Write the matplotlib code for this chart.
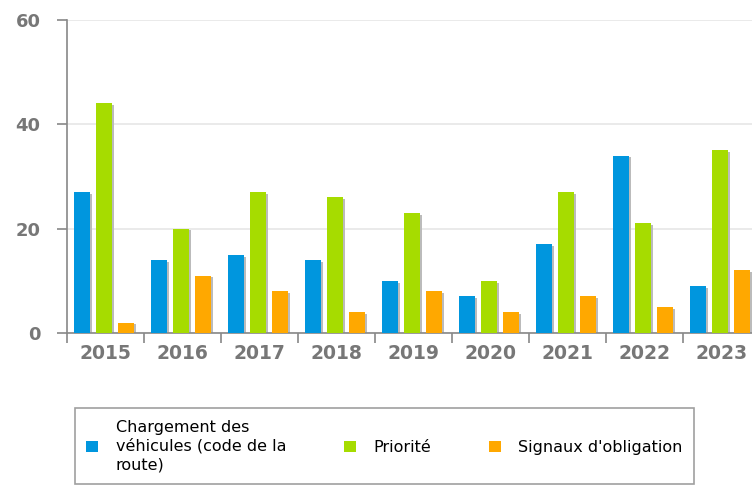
import matplotlib
matplotlib.use("Agg")
import matplotlib.pyplot as plt
import numpy as np

# Données
annees = ["2015", "2016", "2017", "2018", "2019", "2020", "2021", "2022", "2023"]
chargement = [27, 14, 15, 14, 10, 7, 17, 34, 9]
priorite = [44, 20, 27, 26, 23, 10, 27, 21, 35]
signaux = [2, 11, 8, 4, 8, 4, 7, 5, 12]

noms = ["Chargement des\nvéhicules (code de la\nroute)", "Priorité", "Signaux d'obligation"]
couleurs = ["#0096de", "#a6dc00", "#ffa800"]

fig = plt.figure(figsize=(7.52, 5.03), dpi=100)
ax = fig.add_axes([67 / 752, 1 - 333 / 503, 693 / 752, 313 / 503])

x = np.arange(len(annees))
largeur = 0.21
pas = 0.285
series = [chargement, priorite, signaux]
for i, (vals, coul, nom) in enumerate(zip(series, couleurs, noms)):
    pos = x + (i - 1) * pas - 0.02
    # petite ombre grise
    ax.bar(pos + 0.025, vals, largeur, bottom=-0.35, color="#bbbbbb", zorder=2)
    ax.bar(pos, vals, largeur, color=coul, zorder=3, label=nom)

ax.set_xlim(-0.5, len(annees) - 0.5)
ax.set_ylim(0, 60)
ax.set_yticks([0, 20, 40, 60])
ax.set_xticks(x)
ax.set_xticklabels(annees)
ax.set_xticks(np.arange(len(annees) + 1) - 0.5, minor=True)

ax.grid(axis="y", color="#e6e6e6", linewidth=1.2, zorder=0)
for s in ["top", "right"]:
    ax.spines[s].set_visible(False)
ax.spines["left"].set_color("#888888")
ax.spines["bottom"].set_color("#888888")
ax.spines["left"].set_linewidth(1.2)
ax.spines["bottom"].set_linewidth(1.2)

ax.tick_params(axis="x", which="major", length=0, pad=8)
ax.tick_params(axis="x", which="minor", length=7, color="#888888", width=1.2)
ax.tick_params(axis="y", length=7, color="#888888", width=1.2, pad=12)
for lab in ax.get_xticklabels():
    lab.set_fontsize(13.5)
    lab.set_fontweight("bold")
    lab.set_color("#777777")
for lab in ax.get_yticklabels():
    lab.set_fontsize(13)
    lab.set_fontweight("bold")
    lab.set_color("#777777")

leg = fig.legend(loc="center left", bbox_to_anchor=(75 / 752, 1 - 446 / 503),
                 ncol=3, fontsize=11.5, frameon=True, fancybox=False,
                 edgecolor="#888888", handlelength=0.75, handleheight=0.75,
                 handletextpad=1.1, columnspacing=3.6, borderpad=0.7,
                 borderaxespad=0)
leg.get_frame().set_linewidth(1.2)
for t in leg.get_texts():
    t.set_linespacing(1.3)

fig.savefig("out.png", dpi=100)
